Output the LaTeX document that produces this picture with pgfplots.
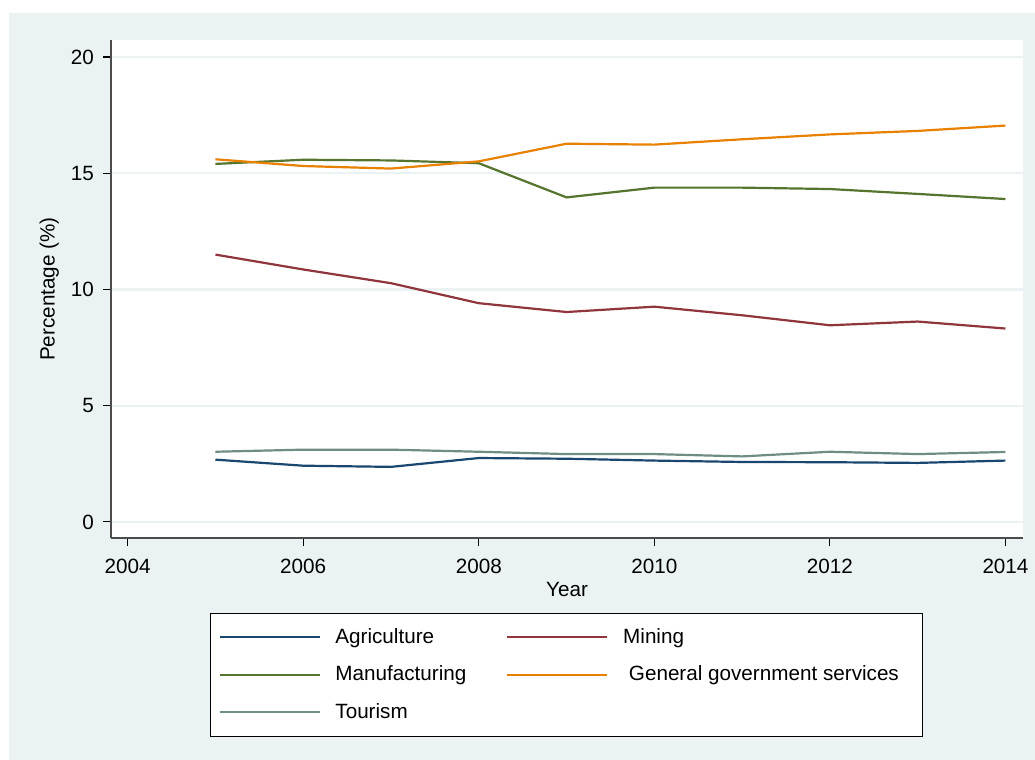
\documentclass[border=0pt]{standalone}
\usepackage{pgfplots}
\pgfplotsset{compat=1.18}
\usepackage{fontspec}
\setmainfont{Liberation Sans}
\definecolor{bgc}{RGB}{234,242,243}
\definecolor{gridc}{RGB}{234,242,243}
\definecolor{snavy}{RGB}{26,71,111}
\definecolor{smaroon}{RGB}{144,53,59}
\definecolor{sgreen}{RGB}{85,117,47}
\definecolor{sorange}{RGB}{232,128,0}
\definecolor{steal}{RGB}{110,142,132}
\newcommand{\fsz}{\fontsize{15.5}{18}\selectfont}
\begin{document}
\begin{tikzpicture}
\fsz
\path[use as bounding box] (0,0) rectangle (776.25pt,-570pt);
\fill[bgc] (6.75pt,-9.75pt) rectangle (776.25pt,-570pt);
\begin{axis}[
  at={(83.25pt,-403.5pt)}, anchor=south west,
  scale only axis, width=684pt, height=373.5pt,
  xmin=2003.81, xmax=2014.2, ymin=-0.69, ymax=20.73,
  axis x line*=bottom, axis y line*=left,
  axis line style={draw=black!70, line width=1.2pt, -},
  axis background/.style={fill=white},
  xtick={2004,2006,...,2014}, ytick={0,5,10,15,20},
  tick align=outside, major tick length=6pt,
  tick style={black, line width=0.8pt},
  ymajorgrids, major grid style={gridc, line width=1.6pt},
  /pgf/number format/assume math mode=true,
  xticklabel={\pgfmathprintnumber[1000 sep={}]{\tick}},
  yticklabel style={font=\fsz, xshift=-1.5pt},
  xticklabel style={font=\fsz, yshift=-4.5pt},
  xlabel={Year}, ylabel={Percentage (\%)},
  label style={font=\fsz},
  xlabel style={yshift=4pt},
  ylabel style={yshift=-1.5pt},
  legend columns=2,
  legend style={at={(0.1086,-0.1506)}, anchor=north west,
    draw=black, line width=0.8pt, fill=white,
    font=\fsz,
    inner xsep=6pt, inner ysep=9pt,
    row sep=10.6pt,
    /tikz/every even column/.append style={column sep=28pt},
    nodes={inner sep=2pt, anchor=west}},
  legend cell align=left,
  legend image code/.code={\draw[#1, line width=1.6pt] (0pt,0pt) -- (75pt,0pt); \path (84pt,0pt);},
  every axis plot/.append style={line width=1.65pt},
]
\addplot[snavy] coordinates {(2005,2.68) (2006,2.42) (2007,2.37) (2008,2.75) (2009,2.72) (2010,2.64) (2011,2.58) (2012,2.57) (2013,2.54) (2014,2.64)};
\addlegendentry{Agriculture}
\addplot[smaroon] coordinates {(2005,11.50) (2006,10.86) (2007,10.27) (2008,9.41) (2009,9.03) (2010,9.26) (2011,8.89) (2012,8.46) (2013,8.62) (2014,8.32)};
\addlegendentry{Mining}
\addplot[sgreen] coordinates {(2005,15.40) (2006,15.58) (2007,15.55) (2008,15.43) (2009,13.96) (2010,14.38) (2011,14.38) (2012,14.32) (2013,14.11) (2014,13.89)};
\addlegendentry{Manufacturing}
\addplot[sorange] coordinates {(2005,15.60) (2006,15.31) (2007,15.20) (2008,15.51) (2009,16.27) (2010,16.23) (2011,16.46) (2012,16.67) (2013,16.82) (2014,17.05)};
\addlegendentry{\ General government services\hspace*{10pt}}
\addplot[steal] coordinates {(2005,3.02) (2006,3.11) (2007,3.11) (2008,3.02) (2009,2.92) (2010,2.92) (2011,2.82) (2012,3.02) (2013,2.92) (2014,3.01)};
\addlegendentry{Tourism}
\end{axis}
\end{tikzpicture}
\end{document}
